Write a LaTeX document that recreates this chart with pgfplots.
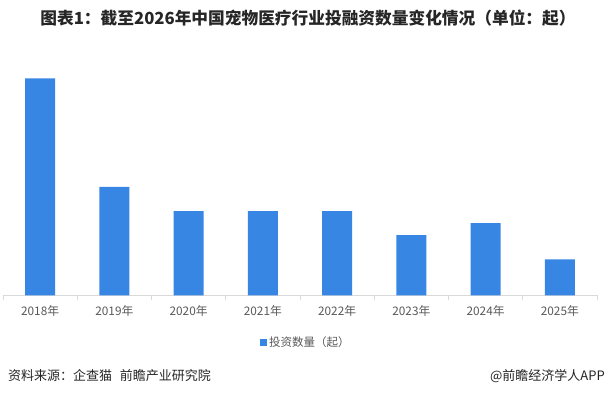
\documentclass[border=0pt]{standalone}
\usepackage{fontspec}
\setmainfont{Noto Sans CJK SC}
\usepackage{pgfplots}
\pgfplotsset{compat=1.18}
\definecolor{barblue}{RGB}{56,134,228}
\definecolor{axgrey}{RGB}{217,217,217}
\definecolor{txtgrey}{RGB}{89,89,89}
\definecolor{ttl}{RGB}{38,38,38}
\begin{document}
\begin{tikzpicture}[x=1pt,y=1pt]
\useasboundingbox[fill=white] (0,0) rectangle (608,396);
\begin{axis}[
  at={(3pt,100.5pt)}, anchor=south west,
  scale only axis, width=594pt, height=253.2pt,
  xmin=-0.5, xmax=7.5, ymin=0, ymax=21,
  axis x line*=bottom, axis y line=none,
  axis line style={axgrey, line width=0.8pt},
  xtick={0,...,7},
  xticklabels={2018年,2019年,2020年,2021年,2022年,2023年,2024年,2025年},
  minor xtick={-0.5,0.5,...,7.5},
  major tick length=0pt, minor tick length=5pt,
  xtick align=outside,
  minor tick style={axgrey, line width=0.8pt},
  ticklabel style={font=\fontsize{11.8}{14}\selectfont, text=txtgrey},
  xticklabel style={yshift=-7pt},
  ytick=\empty,
  legend style={at={(0.51,-0.184)}, anchor=center, draw=none, fill=none,
    font=\fontsize{11.5}{13}\selectfont, text=txtgrey},
  legend image code/.code={\fill[barblue] (0pt,-3.5pt) rectangle (7pt,3.5pt);},
  clip=false,
]
\addplot[ybar, bar width=30pt, fill=barblue, draw=none] coordinates {
  (0,18) (1,9) (2,7) (3,7) (4,7) (5,5) (6,6) (7,3)
};
\addlegendentry{投资数量（起）}
\end{axis}
\node[text=ttl, font=\fontsize{16.7}{19}\selectfont\bfseries] at (308,378) {图表1：截至2026年中国宠物医疗行业投融资数量变化情况（单位：起）};
\node[anchor=west, inner sep=0pt, text=ttl, font=\fontsize{13}{15}\selectfont] at (8,20) {资料来源：企查猫\hspace{0.6em}前瞻产业研究院};
\node[anchor=east, inner sep=0pt, text=ttl, font=\fontsize{13}{15}\selectfont] at (605,20) {@前瞻经济学人APP};
\end{tikzpicture}
\end{document}
